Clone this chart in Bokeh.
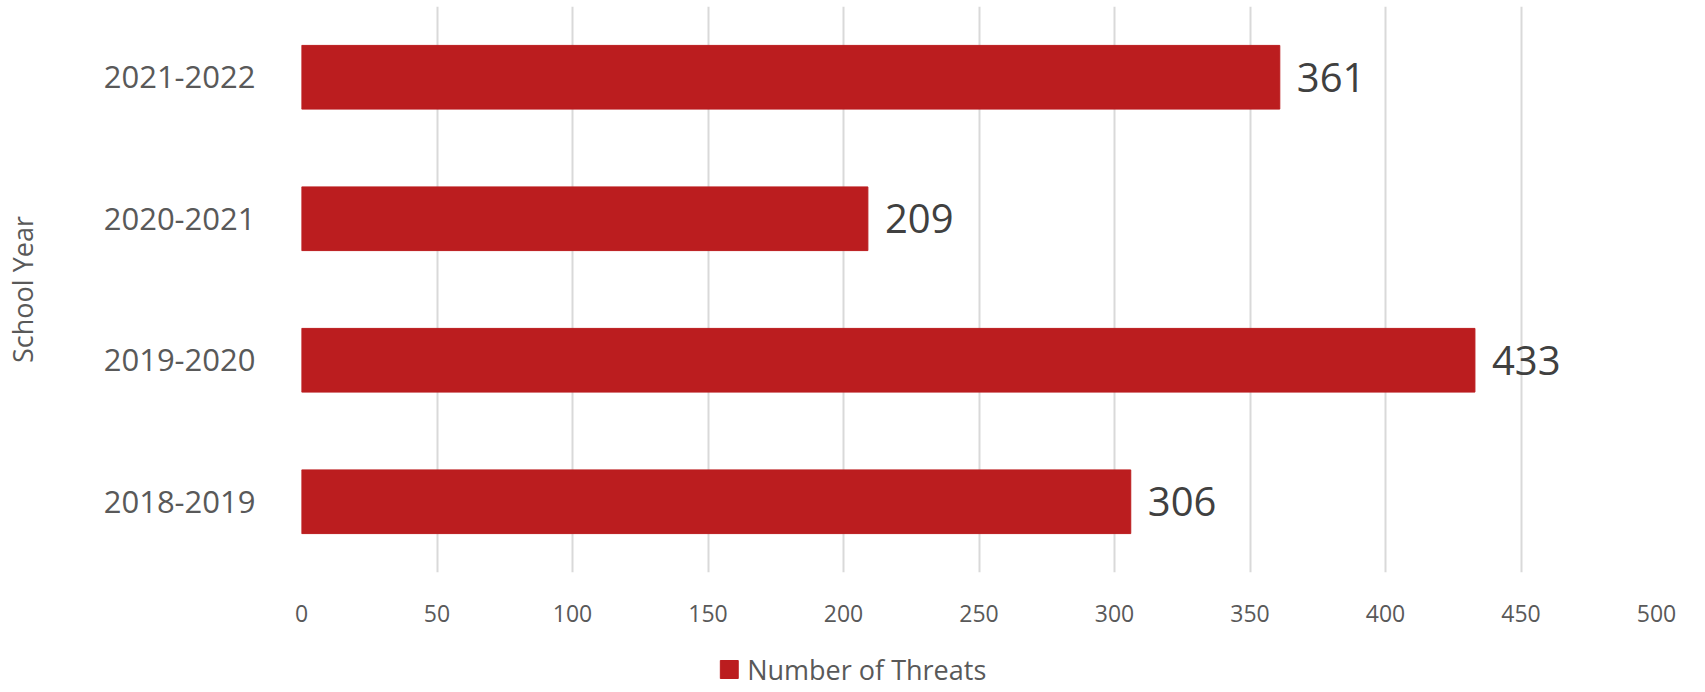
from bokeh.plotting import figure
from bokeh.layouts import column
from bokeh.models import ColumnDataSource, FactorRange, Range1d, FixedTicker
from bokeh.core.properties import value
from bokeh.embed import file_html
from bokeh.resources import INLINE

# ---- data ----
years = ["2018-2019", "2019-2020", "2020-2021", "2021-2022"]
threats = [306, 433, 209, 361]
x_ticks = [0, 50, 100, 150, 200, 250, 300, 350, 400, 450, 500]
series_name = "Number of Threats"
y_title = "School Year"

BAR = "#BB1D1F"
FONT = "Open Sans"

W, H1, H2 = 1689, 628, 56
ML, MR, MT = 294, 33, 6
MB = H1 - MT - 566

src = ColumnDataSource(dict(year=years, threats=threats,
                            label=[str(v) for v in threats]))

p = figure(width=W, height=H1, output_backend="svg", toolbar_location=None,
           y_range=FactorRange(factors=years), x_range=Range1d(0, 500),
           min_border_left=ML, min_border_right=MR, min_border_top=MT,
           min_border_bottom=MB)
p.outline_line_color = None

p.hbar(y="year", left=0, right="threats", height=0.45, color=BAR, source=src)

p.text(x="threats", y="year", text="label", source=src,
       x_offset=17, text_baseline="middle", text_align="left",
       text_font=value(FONT), text_font_size="40px", text_color="#404040")

# axes
p.xaxis.ticker = FixedTicker(ticks=x_ticks)
p.xaxis.axis_line_color = None
p.xaxis.major_tick_line_color = None
p.xaxis.minor_tick_line_color = None
p.xaxis.major_label_standoff = 26
p.xaxis.major_label_text_font = FONT
p.xaxis.major_label_text_font_size = "23px"
p.xaxis.major_label_text_color = "#595959"

p.yaxis.axis_line_color = None
p.yaxis.major_tick_line_color = None
p.yaxis.minor_tick_line_color = None
p.yaxis.major_label_standoff = 40
p.yaxis.major_label_text_font = FONT
p.yaxis.major_label_text_font_size = "31px"
p.yaxis.major_label_text_color = "#595959"
p.yaxis.axis_label = y_title
p.yaxis.axis_label_text_font = FONT
p.yaxis.axis_label_text_font_size = "27px"
p.yaxis.axis_label_text_font_style = "normal"
p.yaxis.axis_label_text_color = "#595959"
p.yaxis.axis_label_standoff = 60

p.xgrid.grid_line_color = "#D9D9D9"
p.xgrid.grid_line_width = 2
p.ygrid.grid_line_color = None

# ---- legend strip below the chart (key swatch + series name) ----
# its frame is aligned with the main frame, so the x range spans the frame's pixels
q = figure(width=W, height=H2, output_backend="svg", toolbar_location=None,
           x_range=Range1d(ML, W - MR), y_range=Range1d(H2, 0),
           x_axis_type=None, y_axis_type=None,
           min_border_left=ML, min_border_right=MR, min_border_top=0, min_border_bottom=0)
q.outline_line_color = None
q.xgrid.grid_line_color = None
q.ygrid.grid_line_color = None
key = ColumnDataSource(dict(x=[724], y=[41], name=[series_name], tx=[742]))
q.rect(x="x", y="y", width=18, height=18, color=BAR, source=key)
q.text(x="tx", y="y", text="name", source=key, text_baseline="middle",
       text_align="left", text_font=value(FONT), text_font_size="27px",
       text_color="#595959")

layout = column(p, q, spacing=0)
open("out.html", "w").write(file_html(layout, INLINE))
